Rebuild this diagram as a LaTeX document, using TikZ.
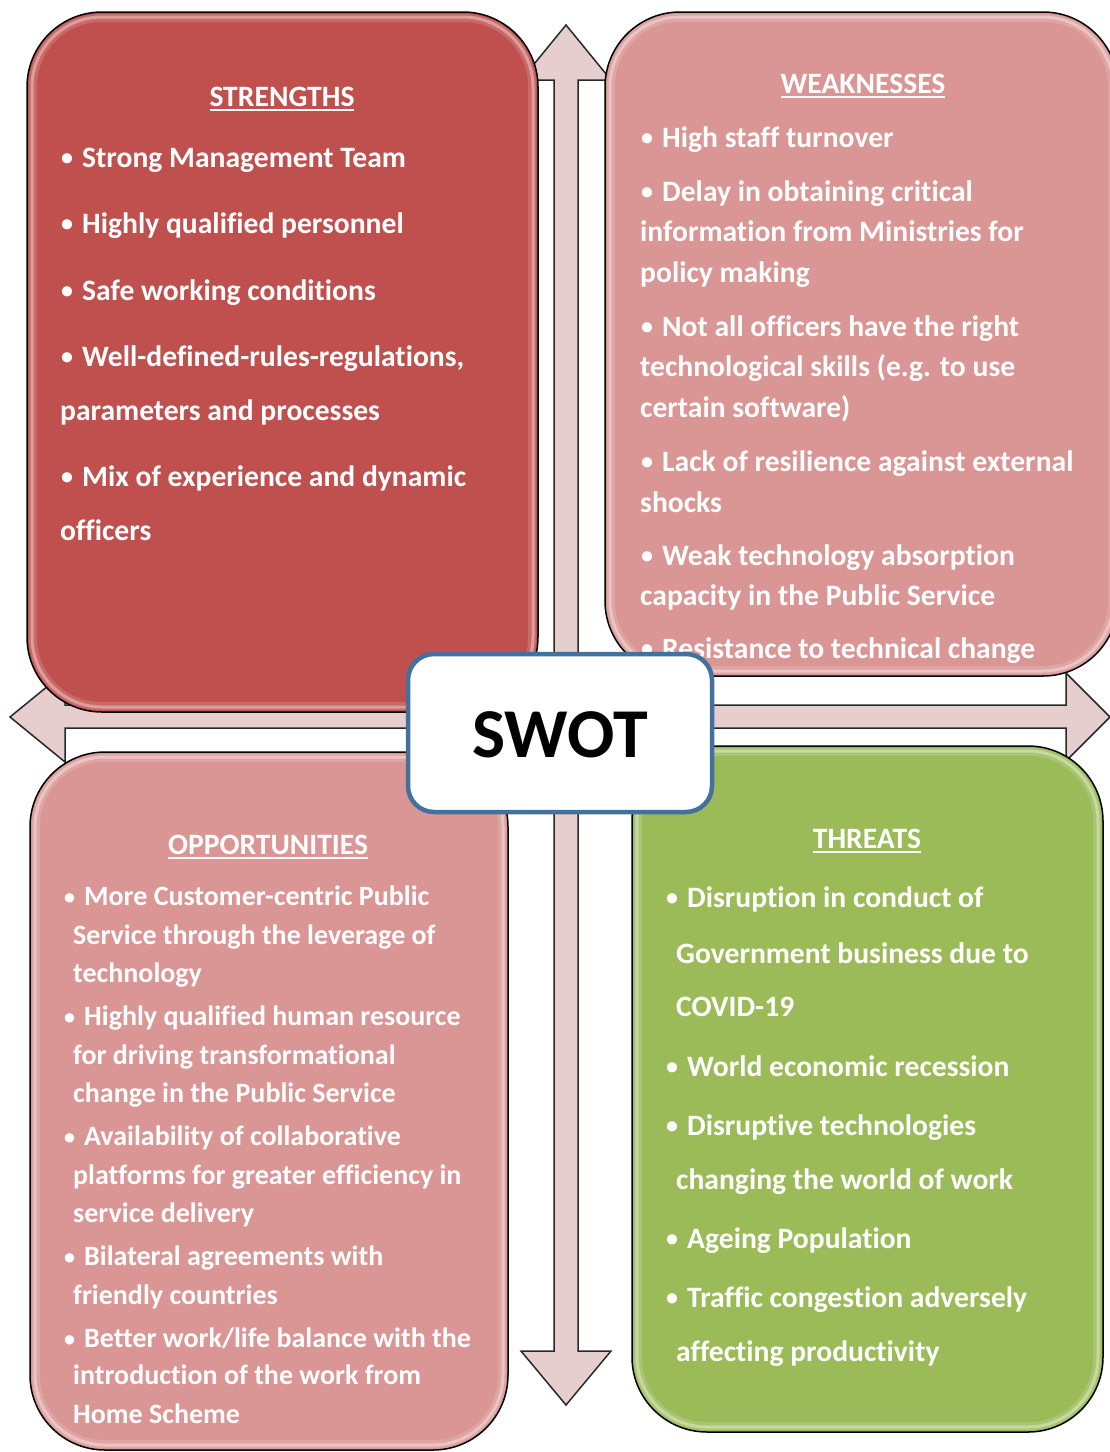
\documentclass[tikz,border=0pt]{standalone}
\usepackage{fontspec}
\setmainfont{Carlito}[Ligatures=NoCommon]
\definecolor{strfill}{RGB}{192,80,77}
\definecolor{pinkfill}{RGB}{217,150,148}
\definecolor{grnfill}{RGB}{155,187,89}
\definecolor{arrfill}{RGB}{230,206,207}
\definecolor{arrline}{RGB}{40,40,40}
\definecolor{swotblue}{RGB}{65,113,156}
\newcommand\ulh[1]{\setbox0\hbox{#1}\rlap{\rule[-4.5pt]{\wd0}{2pt}}\box0}
\newcommand\bu{\makebox[21pt][l]{\raisebox{1.6pt}{\fontsize{24}{24}\selectfont •}}}
\newcommand\bo{\makebox[20pt][l]{\raisebox{1pt}{\fontsize{22}{22}\selectfont •}}}
\begin{document}
\begin{tikzpicture}[x=1pt,y=-1pt,
  box/.style={draw=black, line width=1.5pt, rounded corners=75pt},
  gloss/.style={draw=white, draw opacity=0.35, line width=3pt, rounded corners=70pt},
  gloss2/.style={draw=white, draw opacity=0.15, line width=8pt, rounded corners=68pt},
  arr/.style={fill=arrfill, draw=arrline, line width=1.5pt, line join=miter},
  ln/.style={anchor=base west, inner sep=0pt, text=white, font=\bfseries\fontsize{29.6}{29.6}\selectfont},
  lo/.style={ln, font=\bfseries\fontsize{28}{28}\selectfont},
  hd/.style={anchor=base, inner sep=0pt, text=white, font=\bfseries\fontsize{29.6}{29.6}\selectfont},
  swotbox/.style={draw=swotblue, line width=4.5pt, fill=white, rounded corners=26pt}
]
\useasboundingbox (0,0) rectangle (1110,1452);

% double arrows
\draw[arr] (566,25) -- (611,80) -- (578,80) -- (578,1351) -- (611,1351) -- (566,1405)
  -- (521,1351) -- (554,1351) -- (554,80) -- (521,80) -- cycle;
\draw[arr] (10,717) -- (65,672) -- (65,705) -- (1066,705) -- (1066,673) -- (1110,717)
  -- (1066,761) -- (1066,728) -- (65,728) -- (65,762) -- cycle;

% boxes
\draw[box, fill=strfill] (27,12) rectangle (538,712);
\draw[gloss2] (33,18) rectangle (532,706);
\draw[gloss] (32,17) rectangle (533,707);

\draw[box, fill=pinkfill] (605,12) rectangle (1118,676);
\draw[gloss2] (611,18) rectangle (1112,670);
\draw[gloss] (610,17) rectangle (1113,671);

\draw[box, fill=pinkfill] (30,752) rectangle (508,1450);
\draw[gloss2] (36,758) rectangle (502,1444);
\draw[gloss] (35,757) rectangle (503,1445);

\draw[box, fill=grnfill] (632,746) rectangle (1103,1432);
\draw[gloss2] (638,752) rectangle (1097,1426);
\draw[gloss] (637,751) rectangle (1098,1427);

% STRENGTHS
\node[hd] (s0) at (282,106) {\ulh{STRENGTHS}};
\node[ln] (s1) at (61,167) {\bu Strong Management Team};
\node[ln] (s2) at (61,233) {\bu Highly qualified personnel};
\node[ln] (s3) at (61,300) {\bu Safe working conditions};
\node[ln] (s4) at (61,366) {\bu Well-defined-rules-regulations,};
\node[ln] (s5) at (60,420) {parameters and processes};
\node[ln] (s6) at (61,486) {\bu Mix of experience and dynamic};
\node[ln] (s7) at (60,540) {officers};

% WEAKNESSES
\node[hd] (w0) at (863,93) {\ulh{WEAKNESSES}};
\node[ln] (w1) at (641,147) {\bu High staff turnover};
\node[ln] (w2) at (641,201) {\bu Delay in obtaining critical};
\node[ln] (w3) at (640,241) {information from Ministries for};
\node[ln] (w4) at (640,282) {policy making};
\node[ln] (w5) at (641,336) {\bu Not all officers have the right};
\node[ln] (w6) at (640,376) {technological skills (e.g. to use};
\node[ln] (w7) at (640,417) {certain software)};
\node[ln] (w8) at (641,471) {\bu Lack of resilience against external};
\node[ln] (w9) at (640,512) {shocks};
\node[ln] (w10) at (641,565) {\bu Weak technology absorption};
\node[ln] (w11) at (640,605) {capacity in the Public Service};
\node[ln] (w12) at (641,658) {\bu Resistance to technical change};

% OPPORTUNITIES
\node[hd] (o0) at (268,854) {\ulh{OPPORTUNITIES}};
\node[lo] (o1) at (64,905) {\bo More Customer-centric Public};
\node[lo] (o2) at (73,944) {Service through the leverage of};
\node[lo] (o3) at (73,982) {technology};
\node[lo] (o4) at (64,1025) {\bo Highly qualified human resource};
\node[lo] (o5) at (73,1064) {for driving transformational};
\node[lo] (o6) at (73,1102) {change in the Public Service};
\node[lo] (o7) at (64,1145) {\bo Availability of collaborative};
\node[lo] (o8) at (73,1184) {platforms for greater efficiency in};
\node[lo] (o9) at (73,1222) {service delivery};
\node[lo] (o10) at (64,1265) {\bo Bilateral agreements with};
\node[lo] (o11) at (73,1304) {friendly countries};
\node[lo] (o12) at (64,1347) {\bo Better work/life balance with the};
\node[lo] (o13) at (73,1384) {introduction of the work from};
\node[lo] (o14) at (73,1423) {Home Scheme};

% THREATS
\node[hd] (t0) at (867,848) {\ulh{THREATS}};
\node[ln] (t1) at (666,907) {\bu Disruption in conduct of};
\node[ln] (t2) at (676,963) {Government business due to};
\node[ln] (t3) at (676,1016) {COVID-19};
\node[ln] (t4) at (666,1076) {\bu World economic recession};
\node[ln] (t5) at (666,1135) {\bu Disruptive technologies};
\node[ln] (t6) at (676,1189) {changing the world of work};
\node[ln] (t7) at (666,1248) {\bu Ageing Population};
\node[ln] (t8) at (666,1307) {\bu Traffic congestion adversely};
\node[ln] (t9) at (676,1361) {affecting productivity};

% SWOT centre
\draw[swotbox] (408,654) rectangle (712,812);
\node[anchor=base, inner sep=0pt, font=\bfseries\fontsize{70}{70}\selectfont] (swot) at (560,757) {SWOT};
\end{tikzpicture}
\end{document}
